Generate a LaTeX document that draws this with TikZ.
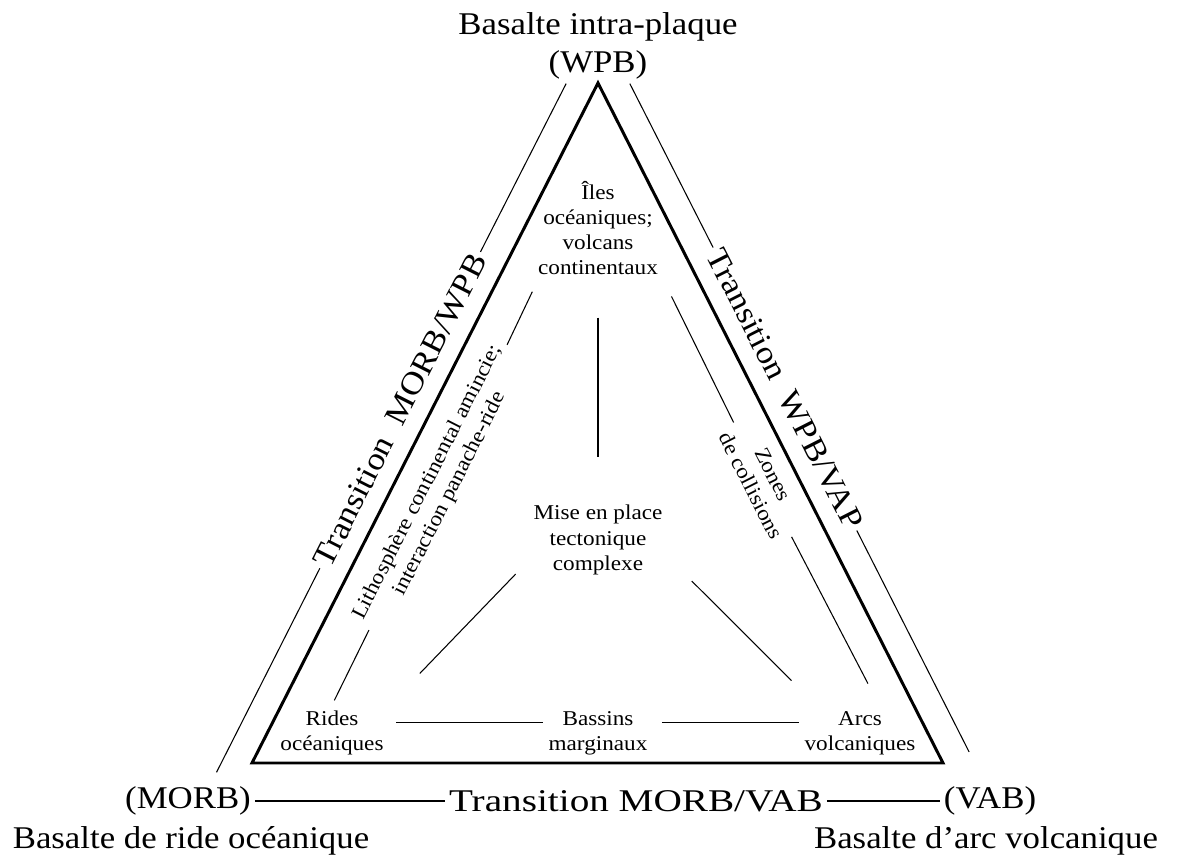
\documentclass[tikz,border=0pt]{standalone}
\usepackage{fontspec}
\setmainfont{Liberation Serif}[FakeStretch=1.1]
\newfontfamily\widefont{Liberation Serif}[FakeStretch=1.24]

\begin{document}
\begin{tikzpicture}[
        x=0.02cm, y=-0.02cm,  % Small grid steps, y going down
        line width=0.6pt,     % Thin lines by default
        big/.style={font=\fontsize{18}{21.6}\selectfont, inner sep=2pt},
        small/.style={font=\fontsize{12}{14.3}\selectfont, align=center, inner sep=3pt}
    ]
    \useasboundingbox (0,0) rectangle (1178,858);

    % Corners of the triangle and of the outer frame
    \coordinate (ta) at (598,83);
    \coordinate (tl) at (252,763);
    \coordinate (tr) at (943,763);
    \coordinate (oa) at (598,21);
    \coordinate (ol) at (203,799);
    \coordinate (or) at (993,799);

    \draw[line width=1.7pt] (ta) -- (tl) -- (tr) -- cycle;

    % Basalt types at the corners
    \node[big, anchor=base] (wpbname) at (598,35) {Basalte intra-plaque};
    \node[big, anchor=base] (wpb) at (598,73) {(WPB)};
    \node[big] (morb) at (188,801) {(MORB)};
    \node[big, anchor=base] (morbname) at (191,848) {Basalte de ride océanique};
    \node[big] (vab) at (990,801) {(VAB)};
    \node[big, anchor=base] (vabname) at (986,848) {Basalte d'arc volcanique};

    % Transitions along the frame
    \node[big, rotate=63.1] (trmw) at (400,410) {Transition\ \ MORB/WPB};
    \node[big, rotate=-63.1] (trwv) at (785,389) {Transition\ \ WPB/VAP};
    \node[big, font=\fontsize{18}{21.6}\widefont] (trmv) at (636,801) {Transition MORB/VAB};

    % Settings inside the triangle
    \node[small] (iles) at (598,228) {Îles\\océaniques;\\volcans\\continentaux};
    \node[small] (mise) at (598,540) {Mise en place\\tectonique\\complexe};
    \node[small] (rides) at (332,733) {Rides\\océaniques};
    \node[small] (bassins) at (598,733) {Bassins\\marginaux};
    \node[small] (arcs) at (860,733) {Arcs\\volcaniques};
    \node[small, rotate=63.1] (litho) at (439,488) {Lithosphère continental amincie;\\interaction panache-ride};
    \node[small, rotate=-63.1] (zones) at (762,480) {Zones\\de collisions};

    % Draw the frame lines
    \draw[shorten <=17pt] (ol) -- (trmw);
    \draw[shorten >=40pt] (trmw) -- (oa);
    \draw[shorten <=40pt] (oa) -- (trwv);
    \draw[shorten >=30pt] (trwv) -- (or);
    \draw (morb) -- (trmv) -- (vab);

    % Draw the links between settings
    \draw[shorten <=3pt] (rides.north) -- (litho);
    \draw[shorten >=7pt] (litho) -- ([xshift=3pt]iles.south west);
    \draw[shorten <=14pt] ([xshift=11pt]arcs.north) -- (zones);
    \draw[shorten >=10pt] (zones) -- (iles.south east);
    \draw[shorten <=21pt, shorten >=24pt] (iles) -- (mise);
    \draw[shorten <=10pt, shorten >=25pt] (mise.197) -- (rides.north east);
    \draw[shorten <=19pt, shorten >=20pt] (mise.-14) -- ([xshift=10pt]arcs.north west);
    \draw[shorten <=4pt] ([yshift=6pt]rides.east) -- ([yshift=6pt]bassins.west);
    \draw[shorten <=5pt] ([yshift=6pt]bassins.east) -- ([yshift=6pt]arcs.west);

\end{tikzpicture}
\end{document}
